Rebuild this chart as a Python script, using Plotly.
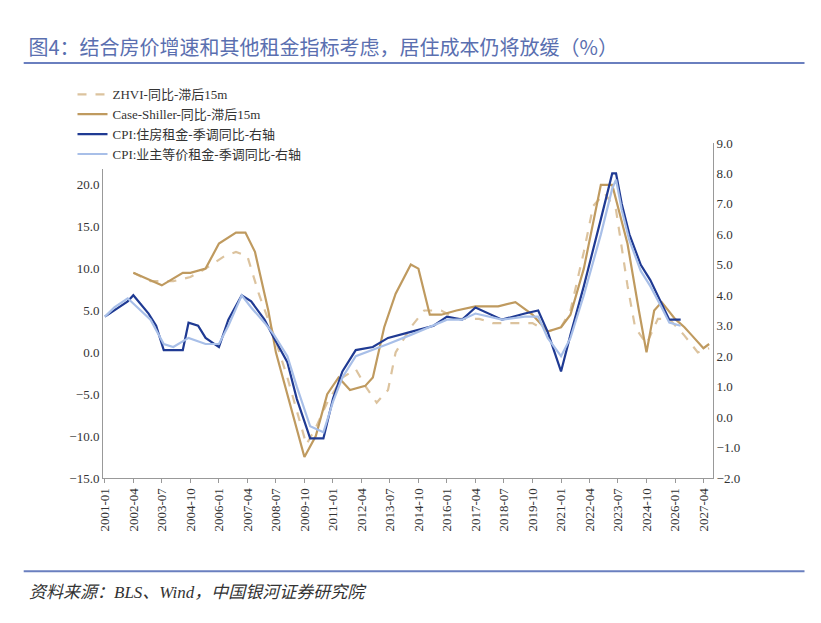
import plotly.graph_objects as go

# Case-Shiller YoY lagged 15m (left axis)
cs_x = ['2002-04','2003-07','2004-06','2004-10','2005-06','2006-01','2006-10','2007-03','2007-08','2008-03','2008-07','2009-01','2009-06','2009-10','2010-04','2010-10','2011-04','2011-10','2012-06','2012-10','2013-04','2013-10','2014-06','2014-10','2015-04','2015-10','2016-06','2017-04','2018-04','2019-01','2019-10','2020-06','2021-01','2021-06','2022-01','2022-10','2023-04','2023-07','2023-12','2024-06','2024-10','2025-02','2025-06','2026-01','2026-06','2026-10','2027-04','2027-07']
cs_y = [9.5,8,9.5,9.5,10,13,14.3,14.3,12,5,0,-5,-9,-12.5,-10,-5,-3,-4.5,-4,-3,3,7,10.5,10,4.5,4.5,5,5.5,5.5,6,4.5,2.5,3,4.5,10,20,20,17.5,13,5,0,5,6,4,3,2,0.5,1]

# ZHVI YoY lagged 15m (left axis)
zh_x = ['2002-04','2003-01','2004-01','2004-10','2005-06','2006-04','2006-10','2007-04','2007-10','2008-06','2009-01','2009-06','2009-11','2010-04','2010-10','2011-06','2012-01','2012-06','2012-12','2013-06','2013-10','2014-06','2015-01','2015-10','2016-06','2017-06','2018-01','2019-01','2019-10','2020-06','2021-01','2021-06','2022-01','2022-06','2022-12','2023-06','2023-12','2024-04','2024-10','2025-04','2025-10','2026-06','2027-01','2027-07']
zh_y = [9.5,8.5,8.5,9,10,11.5,12,11.5,7,2,-3,-7,-11,-9,-6,-3,-2,-4,-6,-4.5,0,3,5,5,4,4,3.5,3.5,3.5,2.5,3,5,12,17.5,19,17,8,3,1,4,4,2,0,0.5]

# CPI rent of primary residence YoY (right axis)
cpi_x = ['2001-01','2001-06','2002-01','2002-04','2002-08','2002-12','2003-04','2003-08','2004-01','2004-06','2004-09','2005-02','2005-06','2006-01','2006-06','2007-01','2007-06','2008-01','2008-06','2009-01','2009-06','2010-01','2010-08','2011-01','2011-06','2012-01','2012-10','2013-06','2014-06','2015-06','2016-01','2016-09','2017-04','2018-06','2019-06','2020-01','2020-06','2021-01','2021-06','2022-01','2022-10','2023-04','2023-06','2023-09','2024-01','2024-07','2024-12','2025-06','2025-10','2026-04']
cpi_y = [3.3,3.5,3.8,4.0,3.7,3.4,3.0,2.2,2.2,2.2,3.1,3.0,2.6,2.3,3.2,4.0,3.8,3.2,2.6,1.8,0.6,-0.7,-0.7,0.6,1.5,2.2,2.3,2.6,2.8,3.0,3.3,3.2,3.6,3.2,3.4,3.5,2.8,1.5,2.7,4.3,6.5,8.0,8.0,7.0,6.0,5.0,4.5,3.7,3.2,3.2]

# CPI owners' equivalent rent YoY (right axis)
oer_x = ['2001-01','2001-06','2002-01','2002-06','2003-01','2003-08','2004-01','2004-09','2005-06','2006-01','2006-06','2007-01','2007-06','2008-01','2008-06','2009-01','2009-06','2010-01','2010-08','2011-01','2011-06','2012-01','2012-10','2013-06','2014-06','2015-06','2016-01','2016-09','2017-04','2018-06','2019-06','2020-01','2020-06','2021-01','2021-06','2022-01','2022-10','2023-04','2023-06','2023-09','2024-01','2024-07','2024-12','2025-06','2025-10','2026-04']
oer_y = [3.3,3.6,3.9,3.6,3.2,2.4,2.3,2.6,2.4,2.4,3.0,4.0,3.6,3.1,2.7,2.0,1.0,-0.3,-0.5,0.5,1.3,2.0,2.2,2.4,2.7,3.0,3.2,3.2,3.4,3.2,3.3,3.3,2.6,2.0,2.6,4.0,6.0,7.5,7.8,6.8,5.8,4.8,4.3,3.6,3.1,3.0]

tick_vals = ['2001-01','2002-04','2003-07','2004-10','2006-01','2007-04','2008-07','2009-10','2011-01','2012-04','2013-07','2014-10','2016-01','2017-04','2018-07','2019-10','2021-01','2022-04','2023-07','2024-10','2026-01','2027-04']

font = dict(family='Liberation Serif, Noto Sans CJK SC', size=13, color='#333')
fig = go.Figure()
fig.add_trace(go.Scatter(x=zh_x, y=zh_y, name='ZHVI-同比-滞后15m', mode='lines',
                         line=dict(color='#dcc39e', width=2.2, dash='dash')))
fig.add_trace(go.Scatter(x=cs_x, y=cs_y, name='Case-Shiller-同比-滞后15m', mode='lines',
                         line=dict(color='#bf9a5f', width=2.2)))
fig.add_trace(go.Scatter(x=cpi_x, y=cpi_y, name='CPI:住房租金-季调同比-右轴', mode='lines', yaxis='y2',
                         line=dict(color='#1f3a93', width=2.2)))
fig.add_trace(go.Scatter(x=oer_x, y=oer_y, name='CPI:业主等价租金-季调同比-右轴', mode='lines', yaxis='y2',
                         line=dict(color='#a8bfe8', width=2.2)))

fig.update_layout(
    width=821, height=623, plot_bgcolor='white', paper_bgcolor='white', font=font,
    margin=dict(l=95, r=116, t=135, b=153),
    xaxis=dict(type='date', range=['2000-12-01', '2027-09-01'], tickvals=tick_vals, ticktext=tick_vals,
               tickangle=-90, showgrid=False, showline=True, linecolor='#999', ticks='outside',
               ticklen=4, tickcolor='#999', automargin=False),
    yaxis=dict(range=[-15, 25], dtick=5, tickformat='.1f', showgrid=False, showline=True,
               linecolor='#999', zeroline=False, automargin=False),
    yaxis2=dict(range=[-2, 9], dtick=1, tickformat='.1f', overlaying='y', side='right',
                showgrid=False, showline=True, linecolor='#999', zeroline=False, automargin=False),
    legend=dict(orientation='h', x=-0.05, xanchor='left', y=1.19, yanchor='top',
                entrywidthmode='fraction', entrywidth=0.55, font=dict(size=13)),
    title=dict(text='图4：结合房价增速和其他租金指标考虑，居住成本仍将放缓（%）', x=0.025, y=0.947,
               font=dict(size=20, color='#5a6fb0', family='Noto Sans CJK SC')),
)
fig.add_shape(type='line', xref='paper', yref='paper', x0=-0.13, x1=1.15, y0=1.239, y1=1.239,
              line=dict(color='#6a7fbf', width=2))
fig.add_shape(type='line', xref='paper', yref='paper', x0=-0.13, x1=1.15, y0=-0.278, y1=-0.278,
              line=dict(color='#6a7fbf', width=2))
fig.add_annotation(text='<i>资料来源：BLS、Wind，中国银河证券研究院</i>', xref='paper', yref='paper',
                   x=-0.125, y=-0.343, xanchor='left', yanchor='middle', showarrow=False,
                   font=dict(size=17, color='#333', family='Liberation Serif, Noto Sans CJK SC'))
fig.write_html('out.html')
